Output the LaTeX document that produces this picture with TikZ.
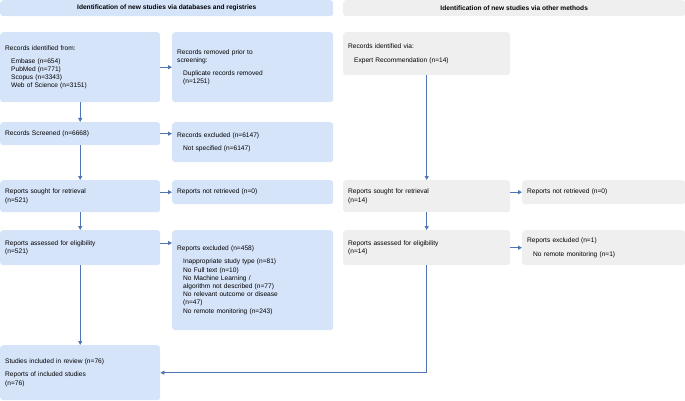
\documentclass[tikz,border=0pt]{standalone}
\usepackage{fontspec}
\setmainfont{Liberation Sans}
\usetikzlibrary{arrows.meta}
\definecolor{bbox}{HTML}{D6E4FA}
\definecolor{gbox}{HTML}{EFEFEF}
\definecolor{arr}{HTML}{4F76B3}
\begin{document}
\begin{tikzpicture}[x=1pt,y=-1pt,
  box/.style={rounded corners=3pt,anchor=north west,align=left,inner xsep=5pt,inner ysep=3pt,font=\fontsize{6.6}{8.2}\selectfont},
  bl/.style={box,fill=bbox},
  gr/.style={box,fill=gbox},
  ar/.style={draw=arr,line width=0.8pt,-{Triangle[length=4pt,width=4pt]}}]
\useasboundingbox (0,0) rectangle (685,401);
\node[bl,minimum width=333,minimum height=16,font=\bfseries\fontsize{6.6}{8}\selectfont] (h1) at (0,0) {Identification of new studies via databases and registries};
\node[gr,minimum width=342,minimum height=16,font=\bfseries\fontsize{6.6}{8}\selectfont] (h2) at (343,0) {Identification of new studies via other methods};
% left column
\node[bl,minimum width=160,minimum height=70,text width=150] (a1) at (0,32) {Records identified from:\\[5pt]\hspace*{6pt}Embase (n=654)\\\hspace*{6pt}PubMed (n=771)\\\hspace*{6pt}Scopus (n=3343)\\\hspace*{6pt}Web of Science (n=3151)};
\node[bl,minimum width=161,minimum height=70,text width=151] (b1) at (172,32) {Records removed prior to\\screening:\\[5pt]\hspace*{6pt}Duplicate records removed\\\hspace*{6pt}(n=1251)\\[12pt]};
\node[bl,minimum width=160,minimum height=23,text width=150] (a2) at (0,122) {Records Screened (n=6668)};
\node[bl,minimum width=161,minimum height=40,text width=151] (b2) at (172,122) {Records excluded (n=6147)\\[5pt]\hspace*{6pt}Not specified (n=6147)};
\node[bl,minimum width=160,minimum height=32,text width=150] (a3) at (0,180) {Reports sought for retrieval\\(n=521)};
\node[bl,minimum width=161,minimum height=24,text width=151] (b3) at (172,180) {Reports not retrieved (n=0)};
\node[bl,minimum width=160,minimum height=35,text width=150] (a4) at (0,230) {Reports assessed for eligibility\\(n=521)};
\node[bl,minimum width=161,minimum height=100,text width=151] (b4) at (172,230) {Reports excluded (n=458)\\[5pt]\hspace*{6pt}Inappropriate study type (n=81)\\\hspace*{6pt}No Full text (n=10)\\\hspace*{6pt}No Machine Learning /\\\hspace*{6pt}algorithm not described (n=77)\\\hspace*{6pt}No relevant outcome or disease\\\hspace*{6pt}(n=47)\\\hspace*{6pt}No remote monitoring (n=243)};
\node[bl,minimum width=160,minimum height=55,text width=150] (a5) at (0,345) {Studies included in review (n=76)\\[5pt]Reports of included studies\\(n=76)};
% right column
\node[gr,minimum width=167,minimum height=43,text width=157] (c1) at (343,32) {Records identified via:\\[5pt]\hspace*{6pt}Expert Recommendation (n=14)};
\node[gr,minimum width=167,minimum height=32,text width=157] (c3) at (343,180) {Reports sought for retrieval\\(n=14)};
\node[gr,minimum width=163,minimum height=24,text width=153] (d3) at (522,180) {Reports not retrieved (n=0)};
\node[gr,minimum width=167,minimum height=35,text width=157] (c4) at (343,230) {Reports assessed for eligibility\\(n=14)};
\node[gr,minimum width=163,minimum height=35,text width=153] (d4) at (522,230) {Reports excluded (n=1)\\[5pt]\hspace*{6pt}No remote monitoring (n=1)};
\coordinate (k) at (c4.south |- a5.east);
% arrows
\draw[ar] (a1) -- (a2);
\draw[ar] (a2) -- (a3);
\draw[ar] (a3) -- (a4);
\draw[ar] (a4) -- (a5);
\draw[ar] (a1) -- (b1);
\draw[ar] (a2.east) -- (a2.east -| b2.west);
\draw[ar] (a3.east |- b3.west) -- (b3.west);
\draw[ar] (a4.east |- 0,243) -- (b4.west |- 0,243);
\draw[ar] (c1) -- (c3);
\draw[ar] (c3) -- (c4);
\draw[ar] (c3.east |- d3.west) -- (d3.west);
\draw[ar] (c4) -- (d4);
\draw[ar] (c4.south) -- (k) -- (a5.east);
\end{tikzpicture}
\end{document}
